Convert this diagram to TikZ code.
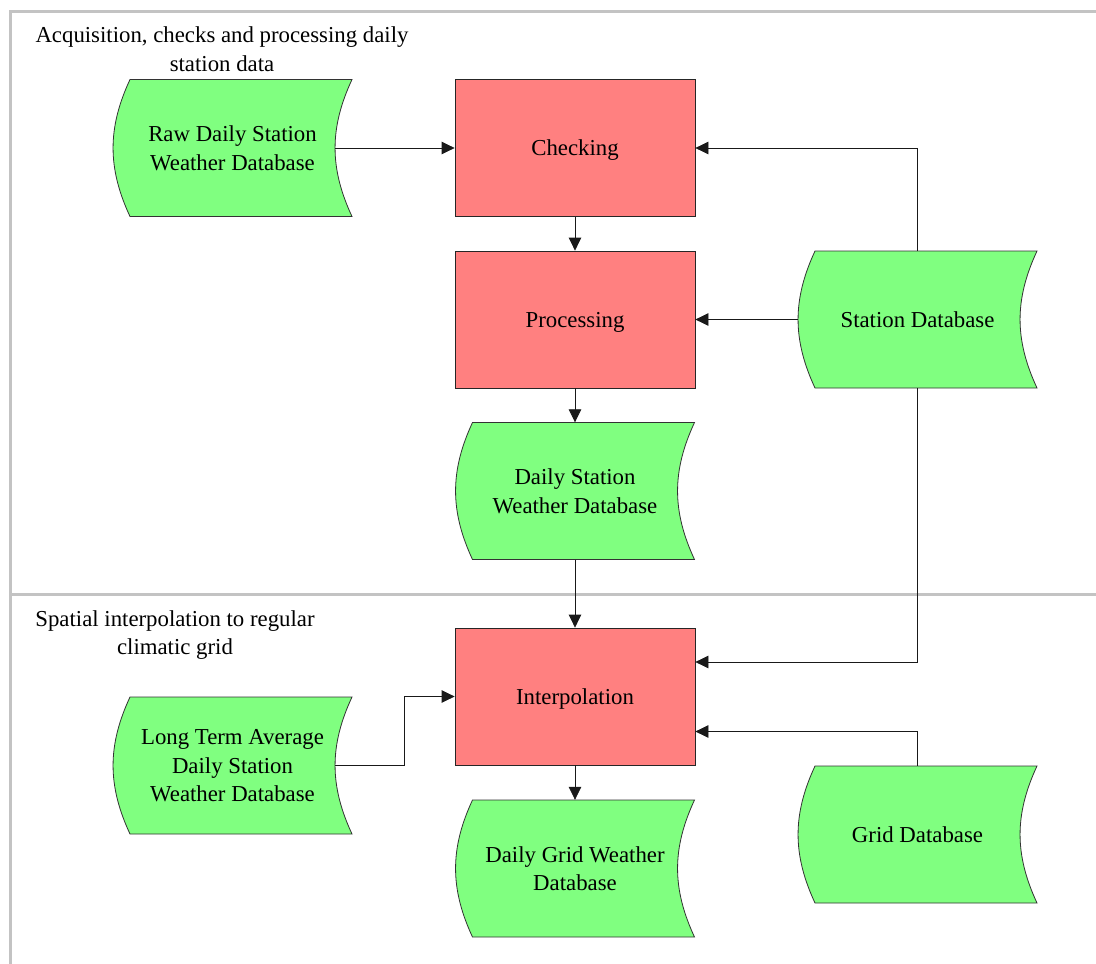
\documentclass[tikz,border=0pt]{standalone}
\usepackage{fontspec}
\setmainfont{Liberation Serif}
\usetikzlibrary{arrows.meta,calc}
\definecolor{procred}{HTML}{FF8080}
\definecolor{dbgreen}{HTML}{80FF80}
\definecolor{framegray}{HTML}{C3C3C3}
\begin{document}
\begin{tikzpicture}[x=1pt,y=-1pt,
  txt/.style={font=\fontsize{22.8}{28.5}\selectfont, align=center, text=black},
  proc/.style={txt, text depth=0pt, draw=black!85, fill=procred, minimum width=240pt, minimum height=137pt, inner sep=0pt, line width=0.8pt},
  store/.style={txt, text depth=0pt, minimum width=241pt, minimum height=139pt, inner sep=0pt,
    path picture={
      \draw[fill=dbgreen, draw=black!80, line width=0.8pt]
        ([xshift=18pt,yshift=-1pt]path picture bounding box.north west)
        -- ([xshift=-1pt,yshift=-1pt]path picture bounding box.north east)
        to[bend right=25] ([xshift=-1pt,yshift=1pt]path picture bounding box.south east)
        -- ([xshift=18pt,yshift=1pt]path picture bounding box.south west)
        to[bend left=25] ([xshift=18pt,yshift=-1pt]path picture bounding box.north west)
        -- cycle;
    }},
  conn/.style={draw=black!90, line width=0.8pt, -{Triangle[length=13pt,width=12.5pt]}},
  framestyle/.style={draw=framegray, line width=3pt},
  lbl/.style={txt}
]
\useasboundingbox (0,0) rectangle (1096,964);
% frame
\draw[framestyle] (1096,11) -- (10.5,11) -- (10.5,964);
\draw[framestyle] (10.5,594.5) -- (1096,594.5);
% lane labels
\node[lbl] (lane1) at (222,49) {Acquisition, checks and processing daily\\station data};
\node[lbl] (lane2) at (175,635) {Spatial interpolation to regular\\climatic grid};
% nodes
\node[store] (raw) at (232.5,148) {Raw Daily Station\\Weather Database};
\node[proc] (check) at (575,148) {Checking};
\node[proc] (proc) at (575,319.5) {Processing};
\node[store] (st) at (917.5,319.5) {Station Database};
\node[store] (dsw) at (575,491) {Daily Station\\Weather Database};
\node[proc] (interp) at (575,696.5) {Interpolation};
\node[store] (lt) at (232.5,765.5) {Long Term Average\\Daily Station\\Weather Database};
\node[store] (dgw) at (575,868.5) {Daily Grid Weather\\Database};
\node[store] (grid) at (917.5,834.5) {Grid Database};
\coordinate (jog) at (404,700);
% connectors
\draw[conn] ([xshift=-18pt]raw.east) -- (check.west);
\draw[conn] (check.south) -- (proc.north);
\draw[conn] ([yshift=-1pt]st.north) |- (check.east);
\draw[conn] ([xshift=1pt]st.west) -- (proc.east);
\draw[conn] (proc.south) -- ([yshift=-1pt]dsw.north);
\draw[conn] ([yshift=1pt]dsw.south) -- (interp.north);
\draw[conn] ([yshift=1pt]st.south) |- ([yshift=34.5pt]interp.east);
\draw[conn] ([yshift=-1pt]grid.north) |- ([yshift=-35pt]interp.east);
\draw[conn] ([xshift=-18pt]lt.east) -| (jog |- interp.west) -- (interp.west);
\draw[conn] (interp.south) -- ([yshift=-1pt]dgw.north);
\end{tikzpicture}
\end{document}
